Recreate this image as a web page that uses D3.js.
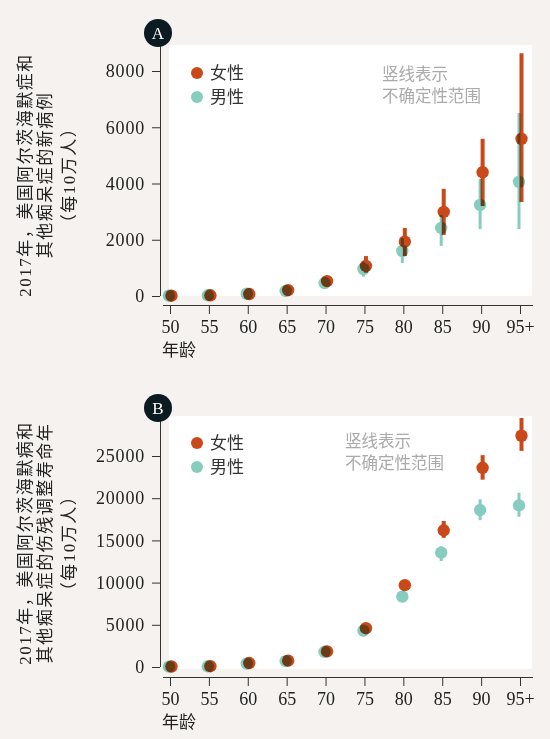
<!DOCTYPE html>
<html>
<head>
<meta charset="utf-8">
<script src="https://cdn.jsdelivr.net/npm/d3@7"></script>
<style>
  body { margin: 0; background: #f5f2ef; }
  svg { display: block; }
  .mark { mix-blend-mode: multiply; }
</style>
</head>
<body>
<script>
let ages = ["50", "55", "60", "65", "70", "75", "80", "85", "90", "95+"];

// panel A: new cases per 100k
let incF = [10, 25, 70, 210, 530, 1070, 1930, 2990, 4400, 5590];
let incFLo = [5, 15, 50, 170, 450, 830, 1420, 2170, 3200, 3340];
let incFHi = [15, 35, 90, 250, 620, 1420, 2420, 3810, 5590, 8630];
let incM = [10, 25, 80, 180, 460, 960, 1600, 2420, 3240, 4060];
let incMLo = [5, 15, 60, 140, 380, 690, 1170, 1780, 2380, 2380];
let incMHi = [15, 35, 100, 230, 560, 1220, 2060, 2880, 4160, 6510];
let incTicks = [0, 2000, 4000, 6000, 8000];

// panel B: DALYs per 100k
let dalyF = [60, 90, 470, 750, 1850, 4600, 9700, 16200, 23600, 27400];
let dalyFLo = [40, 60, 400, 650, 1700, 4300, 9200, 15300, 22200, 25600];
let dalyFHi = [80, 120, 540, 850, 2000, 4900, 10200, 17300, 25100, 29500];
let dalyM = [50, 80, 400, 700, 1800, 4300, 8340, 13550, 18600, 19150];
let dalyMLo = [30, 60, 340, 620, 1650, 4000, 7900, 12560, 17400, 17800];
let dalyMHi = [70, 100, 460, 780, 1950, 4600, 8800, 14300, 19870, 20650];
let dalyTicks = [0, 5000, 10000, 15000, 20000, 25000];

let colF = "#c9491b";
let colM = "#86cdbf";
let serif = "'Liberation Serif', 'Noto Sans CJK SC', serif";
let cjk = "'Noto Sans CJK SC', sans-serif";

let width = 550;
let height = 739;
let svg = d3
  .select("body")
  .append("svg")
  .attr("width", width)
  .attr("height", height);

let xScale = d3.scalePoint().domain(ages).range([170, 520]);

let drawPanel = (p) => {
  let g = svg.append("g").attr("transform", `translate(0,${p.top})`);
  let yScale = d3.scaleLinear().domain([0, p.ticks[p.ticks.length - 1]]).range([251, 251 - p.span]);

  // white plot area
  g.append("rect")
    .attr("x", 169)
    .attr("y", 0)
    .attr("width", 363)
    .attr("height", p.plotH)
    .attr("fill", "#fff");

  // y axis
  let yAxis = g
    .append("g")
    .attr("transform", "translate(160,0)")
    .call(d3.axisLeft(yScale).tickValues(p.ticks).tickSize(8).tickPadding(7).tickFormat((d) => d));
  yAxis.select(".domain").remove();
  yAxis.selectAll("line").attr("stroke", "#333");
  yAxis
    .selectAll("text")
    .attr("font-family", serif)
    .attr("font-size", 18)
    .attr("letter-spacing", 0.8)
    .attr("fill", "#222");
  g.append("line")
    .attr("x1", 160.5)
    .attr("x2", 160.5)
    .attr("y1", p.letterY)
    .attr("y2", 251)
    .attr("stroke", "#333");

  // x axis
  let xAxis = g
    .append("g")
    .attr("transform", `translate(0,${p.xAxisY})`)
    .call(d3.axisBottom(xScale).tickSize(9).tickPadding(6));
  xAxis.select(".domain").remove();
  xAxis.selectAll("line").attr("stroke", "#333");
  xAxis
    .selectAll("text")
    .attr("font-family", serif)
    .attr("font-size", 18)
    .attr("fill", "#222");
  g.append("line")
    .attr("x1", 163)
    .attr("x2", 533)
    .attr("y1", p.xAxisY + 0.5)
    .attr("y2", p.xAxisY + 0.5)
    .attr("stroke", "#333");

  g.append("text")
    .attr("x", 162)
    .attr("y", p.xAxisY + 51)
    .attr("font-family", cjk)
    .attr("font-size", 17)
    .attr("fill", "#222")
    .text("年龄");

  // panel letter
  g.append("circle")
    .attr("cx", 158)
    .attr("cy", p.letterY)
    .attr("r", 14)
    .attr("fill", "#0c1a22");
  g.append("text")
    .attr("x", 158)
    .attr("y", p.letterY + 6)
    .attr("text-anchor", "middle")
    .attr("font-family", serif)
    .attr("font-size", 17)
    .attr("fill", "#fff")
    .text(p.letter);

  // y title
  let title = g
    .append("text")
    .attr("transform", `translate(0,${p.titleY}) rotate(-90)`)
    .attr("text-anchor", "middle")
    .attr("font-family", serif)
    .attr("font-size", 17)
    .attr("letter-spacing", 1.5)
    .attr("fill", "#222");
  p.title.forEach((t, i) => {
    title.append("tspan").attr("x", 0).attr("y", [31, 51, 75][i]).text(t);
  });

  // marks: male first, female group multiplied on top
  let series = [
    { v: p.m, lo: p.mLo, hi: p.mHi, col: colM, dx: -1, bw: 3 },
    { v: p.f, lo: p.fLo, hi: p.fHi, col: colF, dx: 1.5, bw: 4 },
  ];
  series.forEach((s) => {
    let sg = g.append("g").attr("class", "mark");
    sg.selectAll("line")
      .data(ages)
      .enter()
      .append("line")
      .attr("x1", (d) => xScale(d) + s.dx)
      .attr("x2", (d) => xScale(d) + s.dx)
      .attr("y1", (d, i) => yScale(s.lo[i]))
      .attr("y2", (d, i) => yScale(s.hi[i]))
      .attr("stroke", s.col)
      .attr("stroke-width", s.bw);
    sg.selectAll("circle")
      .data(ages)
      .enter()
      .append("circle")
      .attr("cx", (d) => xScale(d) + s.dx)
      .attr("cy", (d, i) => yScale(s.v[i]))
      .attr("r", 6.2)
      .attr("fill", s.col);
  });

  // legend
  [["女性", colF, 28], ["男性", colM, 52]].forEach(([t, c, y]) => {
    g.append("circle").attr("cx", 197).attr("cy", y + p.legOff).attr("r", 6).attr("fill", c);
    g.append("text")
      .attr("x", 210)
      .attr("y", y + p.legOff + 6)
      .attr("font-family", cjk)
      .attr("font-size", 17)
      .attr("fill", "#333")
      .text(t);
  });

  // note
  ["竖线表示", "不确定性范围"].forEach((t, i) => {
    g.append("text")
      .attr("x", p.noteX)
      .attr("y", p.noteY + i * 22)
      .attr("font-family", cjk)
      .attr("font-size", 16.5)
      .attr("fill", "#aaa")
      .text(t);
  });
};

drawPanel({
  top: 45, plotH: 251, xAxisY: 260, span: 225, ticks: incTicks, letter: "A",
  letterY: -12, titleY: 130,
  title: ["2017年，美国阿尔茨海默症和", "其他痴呆症的新病例", "（每10万人）"],
  f: incF, fLo: incFLo, fHi: incFHi, m: incM, mLo: incMLo, mHi: incMHi,
  legOff: 0, noteX: 382, noteY: 35,
});

drawPanel({
  top: 416, plotH: 253, xAxisY: 261, span: 211, ticks: dalyTicks, letter: "B",
  letterY: -8, titleY: 127,
  title: ["2017年，美国阿尔茨海默病和", "其他痴呆症的伤残调整寿命年", "（每10万人）"],
  f: dalyF, fLo: dalyFLo, fHi: dalyFHi, m: dalyM, mLo: dalyMLo, mHi: dalyMHi,
  legOff: -1, noteX: 345, noteY: 31,
});
</script>
</body>
</html>
